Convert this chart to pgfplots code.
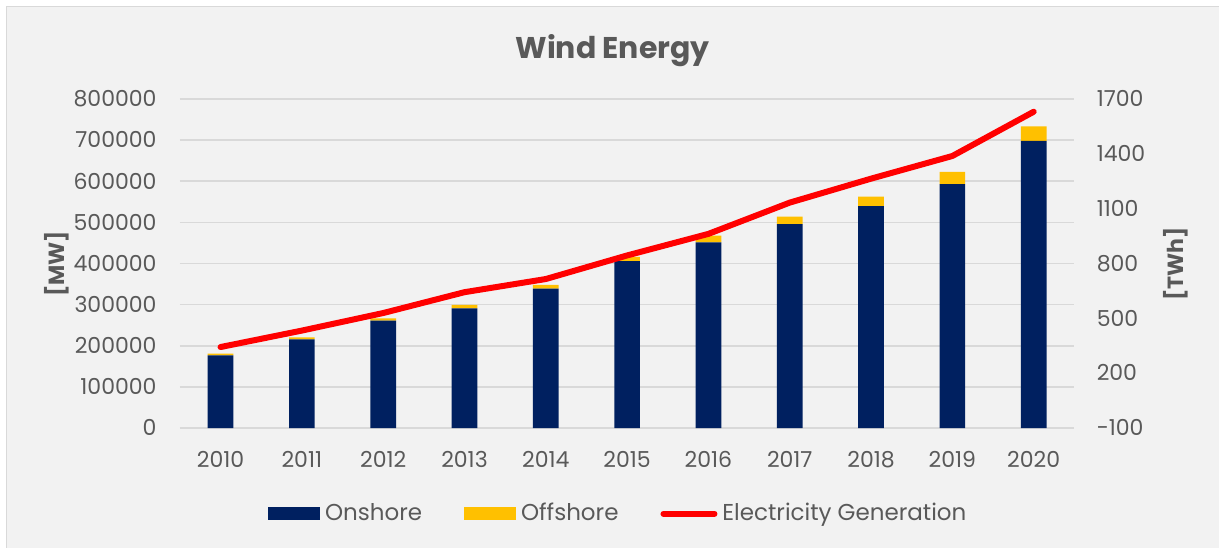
\documentclass[border=0pt]{standalone}
\usepackage{pgfplots}
\pgfplotsset{compat=1.18}
\usepackage{fontspec}
\setmainfont{Poppins}
\definecolor{navy}{HTML}{002060}
\definecolor{gold}{HTML}{FFC000}
\definecolor{txt}{HTML}{595959}
\definecolor{bg}{HTML}{F2F2F2}
\definecolor{gridc}{HTML}{D9D9D9}
\begin{document}
\begin{tikzpicture}
\fill[white] (0,0) rectangle (610pt,274pt);
\fill[bg] (3.25pt,0) rectangle (610pt,270.75pt);
\draw[gridc, line width=0.75pt] (3.25pt,0) -- (3.25pt,270.75pt) -- (610pt,270.75pt);
\node[txt, font=\fontsize{15}{18}\selectfont\bfseries] at (306.5pt,248.5pt) {Wind Energy};
\node[txt, font=\fontsize{11}{13}\selectfont\bfseries, rotate=90] at (28.5pt,142pt) {[MW]};
\node[txt, font=\fontsize{11}{13}\selectfont\bfseries, rotate=90] at (588pt,142pt) {[TWh]};
\begin{axis}[
  at={(90pt,59.85pt)}, anchor=south west, scale only axis,
  width=447.5pt, height=164.65pt,
  xmin=-0.5, xmax=10.5, ymin=0, ymax=800000,
  ytick distance=100000,
  xtick={0,...,10},
  xticklabels={2010,2011,2012,2013,2014,2015,2016,2017,2018,2019,2020},
  ybar stacked, bar width=12.85pt,
  axis line style={draw=none}, major tick length=0pt,
  ymajorgrids, grid style={gridc, line width=0.75pt},
  tick label style={text=txt, font=\fontsize{11}{13}\selectfont, inner sep=0pt},
  /pgf/number format/assume math mode=true,
  yticklabel style={/pgf/number format/fixed, /pgf/number format/1000 sep={}, anchor=base east, xshift=-11.5pt, yshift=-3.9pt},
  xticklabel style={anchor=base, yshift=-19.85pt},
  scaled y ticks=false,
  legend style={at={(axis description cs:0.489,-0.2603)}, anchor=center, draw=none, fill=none,
    legend columns=-1, nodes={inner sep=0pt, text=txt, font=\fontsize{11.5}{13}\selectfont},
    /tikz/every odd column/.append style={column sep=2.5pt},
    /tikz/every even column/.append style={column sep=21pt}},
]
\addplot[fill=navy, draw=none, legend image code/.code={\fill[navy] (0pt,-3.25pt) rectangle (26pt,3.25pt);}] coordinates {
(0,176600) (1,215600) (2,261000) (3,291000) (4,338900) (5,406000)
(6,451600) (7,495400) (8,539200) (9,592700) (10,698300)};
\addlegendentry{Onshore}
\addplot[fill=gold, draw=none, legend image code/.code={\fill[gold] (0pt,-3.25pt) rectangle (26pt,3.25pt);}] coordinates {
(0,4200) (1,4900) (2,5700) (3,8200) (4,8900) (5,10000)
(6,16300) (7,18700) (8,23600) (9,30200) (10,34800)};
\addlegendentry{Offshore}
\addlegendimage{red, line width=3pt, line cap=round, legend image code/.code={\draw[red, line width=3pt, line cap=round] (1.5pt,0pt) -- (27pt,0pt);}}
\addlegendentry{Electricity Generation}
\end{axis}
\begin{axis}[
  at={(90pt,59.85pt)}, anchor=south west, scale only axis,
  width=447.5pt, height=164.65pt,
  xmin=-0.5, xmax=10.5, ymin=-100, ymax=1700,
  ytick={-100,200,500,800,1100,1400,1700},
  yticklabels={-100,200,500,800,1100,1400,1700},
  axis y line*=right, axis x line=none,
  axis line style={draw=none}, major tick length=0pt,
  tick label style={text=txt, font=\fontsize{11}{13}\selectfont, inner sep=0pt},
  yticklabel style={anchor=base west, xshift=11pt, yshift=-3.9pt},
]
\addplot[red, line width=3pt, line join=round, line cap=round] coordinates {
(0,343) (1,433) (2,529) (3,643) (4,715) (5,844)
(6,962) (7,1133) (8,1264) (9,1388) (10,1630)};
\end{axis}
\end{tikzpicture}
\end{document}
